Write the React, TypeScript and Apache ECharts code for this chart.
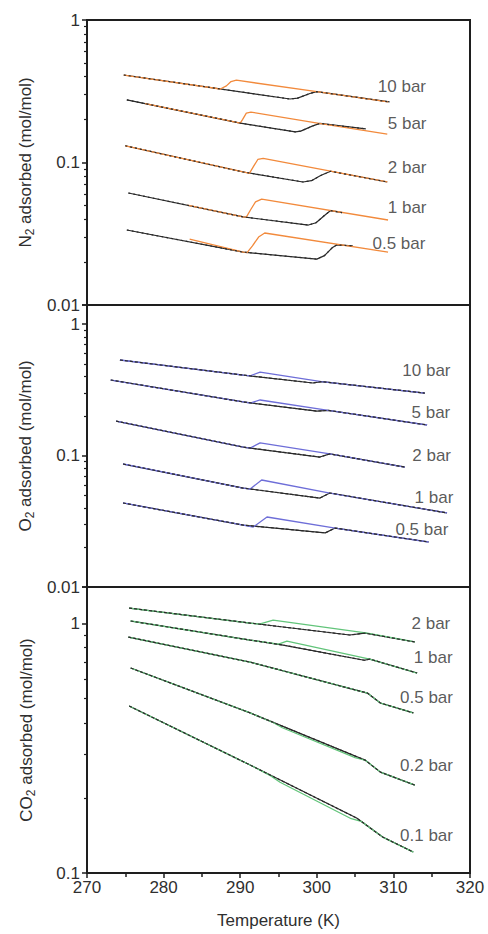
import React, { useEffect, useRef } from 'react';
import * as echarts from 'echarts';

// ---------- axes ----------
const X_MIN = 270;
const X_MAX = 320;
const X_STEP = 10;
const Y_TICK_VALUES = [0.01, 0.1, 1];
const Y_TICK_TEXT = ['0.01', '0.1', '1'];
const N2_Y = [0.01, 1];
const O2_Y = [0.01, 1.4];
const CO2_Y = [0.1, 1.4];
const MINOR_LOW = [0.02, 0.03, 0.04, 0.05, 0.06, 0.07, 0.08, 0.09];
const MINOR_HIGH = [0.2, 0.3, 0.4, 0.5, 0.6, 0.7, 0.8, 0.9];

// ---------- N2 panel (orange = first run, black = reverse run) ----------
const N2_10_ORANGE = [[274.8, 0.411], [287.4, 0.328], [288.2, 0.345], [288.8, 0.37], [289.5, 0.378], [300.0, 0.314], [309.3, 0.266]];
const N2_10_BLACK = [[274.8, 0.411], [296.5, 0.279], [297.5, 0.283], [299.1, 0.305], [300.0, 0.314], [309.5, 0.266]];
const N2_5_ORANGE = [[277.6, 0.259], [290.0, 0.189], [290.3, 0.2], [290.8, 0.222], [291.4, 0.226], [300.3, 0.188], [309.2, 0.158]];
const N2_5_BLACK = [[275.2, 0.275], [290.0, 0.189], [297.2, 0.164], [297.9, 0.166], [299.4, 0.18], [300.4, 0.188], [306.4, 0.172]];
const N2_2_ORANGE = [[275.0, 0.131], [290.4, 0.0858], [291.2, 0.084], [291.8, 0.095], [292.3, 0.105], [293.0, 0.107], [309.2, 0.073]];
const N2_2_BLACK = [[275.0, 0.131], [290.4, 0.0858], [298.2, 0.073], [299.3, 0.0745], [300.5, 0.081], [301.8, 0.0868], [309.2, 0.073]];
const N2_1_ORANGE = [[283.1, 0.0503], [290.4, 0.0415], [290.8, 0.0414], [291.4, 0.047], [292.0, 0.053], [292.8, 0.0554], [309.3, 0.0395]];
const N2_1_BLACK = [[275.4, 0.0611], [290.4, 0.0415], [298.9, 0.0364], [299.9, 0.0378], [301.0, 0.0425], [301.8, 0.046], [303.3, 0.0445]];
const N2_05_ORANGE = [[283.4, 0.029], [290.4, 0.0235], [290.9, 0.0233], [291.6, 0.026], [292.4, 0.03], [293.2, 0.032], [309.3, 0.0235]];
const N2_05_BLACK = [[275.2, 0.0336], [290.4, 0.0235], [300.0, 0.021], [301.0, 0.0222], [302.0, 0.0252], [302.6, 0.0264], [304.7, 0.026]];

// ---------- O2 panel ----------
const O2_10_BLUE = [[274.3, 0.534], [290.4, 0.41], [291.3, 0.405], [292.6, 0.432], [300.6, 0.366], [314.1, 0.299]];
const O2_10_BLACK = [[274.3, 0.534], [290.4, 0.41], [299.5, 0.357], [300.6, 0.366], [314.1, 0.299]];
const O2_5_BLUE = [[273.1, 0.376], [290.4, 0.256], [291.3, 0.251], [292.6, 0.265], [301.5, 0.221], [314.4, 0.171]];
const O2_5_BLACK = [[273.1, 0.376], [290.4, 0.256], [300.0, 0.218], [301.5, 0.221], [314.4, 0.171]];
const O2_2_BLUE = [[273.8, 0.183], [290.4, 0.116], [291.3, 0.114], [292.6, 0.125], [301.7, 0.103], [311.5, 0.0818]];
const O2_2_BLACK = [[273.8, 0.183], [290.4, 0.116], [300.4, 0.0975], [301.7, 0.103], [311.5, 0.0818]];
const O2_1_BLUE = [[274.7, 0.0863], [290.4, 0.0566], [291.3, 0.0557], [292.8, 0.0652], [301.7, 0.0519], [317.0, 0.0366]];
const O2_1_BLACK = [[274.7, 0.0863], [290.4, 0.0566], [300.4, 0.0475], [301.7, 0.0519], [317.0, 0.0366]];
const O2_05_BLUE = [[274.7, 0.0436], [290.4, 0.0296], [291.7, 0.0286], [293.5, 0.0341], [302.4, 0.0281], [314.6, 0.022]];
const O2_05_BLACK = [[274.7, 0.0436], [290.4, 0.0296], [301.1, 0.0258], [302.4, 0.0281], [314.6, 0.022]];

// ---------- CO2 panel ----------
const CO2_2_GREEN = [[275.5, 1.153], [291.3, 1.004], [292.5, 0.994], [294.3, 1.032], [306.6, 0.915], [312.8, 0.843]];
const CO2_2_BLACK = [[275.5, 1.153], [291.3, 1.004], [304.3, 0.899], [306.3, 0.915], [312.8, 0.843]];
const CO2_1_GREEN = [[275.7, 1.023], [291.3, 0.858], [295.0, 0.826], [296.1, 0.85], [306.9, 0.72], [313.1, 0.633]];
const CO2_1_BLACK = [[275.7, 1.023], [291.3, 0.858], [295.6, 0.819], [306.2, 0.712], [306.9, 0.72], [313.1, 0.633]];
const CO2_05_GREEN = [[275.4, 0.882], [291.3, 0.7], [306.6, 0.526], [308.3, 0.48], [312.6, 0.438]];
const CO2_05_BLACK = [[275.4, 0.882], [291.3, 0.7], [306.6, 0.526], [308.3, 0.48], [312.6, 0.438]];
const CO2_02_GREEN = [[275.7, 0.663], [291.3, 0.438], [294.3, 0.401], [295.5, 0.382], [305.0, 0.29], [306.3, 0.2835], [308.3, 0.2537], [312.8, 0.225]];
const CO2_02_BLACK = [[275.7, 0.663], [291.3, 0.438], [306.3, 0.2835], [308.3, 0.2537], [312.8, 0.225]];
const CO2_01_GREEN = [[275.5, 0.467], [291.3, 0.2708], [294.0, 0.245], [295.2, 0.231], [304.5, 0.165], [305.8, 0.161], [308.6, 0.1393], [312.6, 0.1213]];
const CO2_01_BLACK = [[275.5, 0.467], [291.3, 0.2708], [305.2, 0.166], [308.6, 0.1393], [312.6, 0.1213]];

// ---------- curve labels ----------
const N2_LABELS = ['10 bar', '5 bar', '2 bar', '1 bar', '0.5 bar'];
const N2_LABEL_AT = [[307.9, 0.339], [309.2, 0.189], [309.2, 0.0915], [309.2, 0.048], [307.2, 0.0272]];
const O2_LABELS = ['10 bar', '5 bar', '2 bar', '1 bar', '0.5 bar'];
const O2_LABEL_AT = [[311.1, 0.448], [312.3, 0.211], [312.4, 0.101], [312.7, 0.0484], [310.2, 0.0276]];
const CO2_LABELS = ['2 bar', '1 bar', '0.5 bar', '0.2 bar', '0.1 bar'];
const CO2_LABEL_AT = [[312.3, 1.004], [312.6, 0.733], [310.8, 0.507], [310.8, 0.2708], [310.8, 0.1419]];

const BLACK = '#2a2a2a';
const ORANGE = '#f28a3c';
const BLUE = '#6e6ed8';
const GREEN = '#62c47a';
const TEXT = '#2f2f2f';
const FONT = 'Liberation Sans, Arial, sans-serif';

function pairSeries(gi: number, color: string, dash: number[], pairs: number[][][][]) {
  const out: any[] = [];
  pairs.forEach(([colored, black]) => {
    const base = { type: 'line', xAxisIndex: gi, yAxisIndex: gi, symbol: 'none', showSymbol: false, silent: true, clip: true };
    out.push({ ...base, data: black, z: 2, lineStyle: { color: BLACK, width: 1.2 } });
    out.push({ ...base, data: colored, z: 3, lineStyle: { color, width: 1.3 } });
    out.push({ ...base, data: black, z: 4, lineStyle: { color: BLACK, width: 1.2, type: dash } });
  });
  return out;
}

function labelSeries(gi: number, names: string[], at: number[][]) {
  return {
    type: 'scatter',
    xAxisIndex: gi,
    yAxisIndex: gi,
    symbolSize: 1,
    itemStyle: { color: 'rgba(0,0,0,0)' },
    silent: true,
    z: 6,
    data: names.map((n, i) => ({ name: n, value: at[i] })),
    label: { show: true, position: 'right', distance: 0, formatter: '{b}', fontSize: 17, color: TEXT, fontFamily: FONT },
  };
}

function yLabel(v: number) {
  for (let i = 0; i < Y_TICK_VALUES.length; i++) {
    if (Math.abs(v - Y_TICK_VALUES[i]) / Y_TICK_VALUES[i] < 1e-4) return Y_TICK_TEXT[i];
  }
  return '';
}

const GRID_LEFT = 87;
const GRID_W = 383;
const GRIDS = [
  { top: 20, height: 285 },
  { top: 305, height: 282 },
  { top: 587, height: 286 },
];

function mainY(gi: number, range: number[], name: string) {
  return {
    type: 'log',
    logBase: 10,
    gridIndex: gi,
    min: range[0],
    max: range[1],
    position: 'left',
    axisLine: { show: false },
    splitLine: { show: false },
    axisTick: { show: true, length: 5, lineStyle: { color: '#1e1e1e', width: 1.5 } },
    axisLabel: { formatter: yLabel, fontSize: 17, color: TEXT, margin: 7, fontFamily: FONT },
    name,
    nameLocation: 'middle',
    nameGap: 50,
    nameRotate: 90,
    nameTextStyle: {
      fontSize: 17,
      lineHeight: 22,
      color: TEXT,
      fontFamily: FONT,
      rich: { s: { fontSize: 12, lineHeight: 12, verticalAlign: 'bottom', color: TEXT, fontFamily: FONT } },
    },
  };
}

function minorY(gi: number, range: number[], ticks: number[]) {
  return {
    type: 'log',
    logBase: 10,
    gridIndex: gi,
    min: range[0],
    max: range[1],
    position: 'left',
    axisLine: { show: false },
    splitLine: { show: false },
    axisLabel: { show: false },
    axisTick: { show: true, length: 3, customValues: ticks, lineStyle: { color: '#1e1e1e', width: 1.2 } },
  };
}

function xAxis(gi: number, visible: boolean) {
  return {
    type: 'value',
    gridIndex: gi,
    min: X_MIN,
    max: X_MAX,
    interval: X_STEP,
    axisLine: { show: false },
    splitLine: { show: false },
    axisTick: { show: visible, length: 5, lineStyle: { color: '#1e1e1e', width: 1.5 } },
    minorTick: { show: visible, splitNumber: 2, length: 4, lineStyle: { color: '#1e1e1e', width: 1.5 } },
    axisLabel: { show: visible, fontSize: 17, color: TEXT, margin: 6, fontFamily: FONT },
    name: visible ? 'Temperature (K)' : '',
    nameLocation: 'middle',
    nameGap: 39,
    nameTextStyle: { fontSize: 17, color: TEXT, fontFamily: FONT },
  };
}

export default function App() {
  const ref = useRef<HTMLDivElement>(null);
  useEffect(() => {
    if (!ref.current) return;
    const chart = echarts.init(ref.current, null, { renderer: 'svg' });
    const option: any = {
      animation: false,
      backgroundColor: '#ffffff',
      textStyle: { fontFamily: FONT },
      grid: GRIDS.map((g) => ({
        left: GRID_LEFT,
        width: GRID_W,
        top: g.top,
        height: g.height,
        show: true,
        borderColor: '#1e1e1e',
        borderWidth: 2,
        backgroundColor: 'transparent',
        containLabel: false,
      })),
      xAxis: [xAxis(0, false), xAxis(1, false), xAxis(2, true)],
      yAxis: [
        mainY(0, N2_Y, 'N{s|2} adsorbed (mol/mol)'),
        mainY(1, O2_Y, 'O{s|2} adsorbed (mol/mol)'),
        mainY(2, CO2_Y, 'CO{s|2} adsorbed (mol/mol)'),
        minorY(0, N2_Y, [...MINOR_LOW, ...MINOR_HIGH]),
        minorY(1, O2_Y, [...MINOR_LOW, ...MINOR_HIGH]),
        minorY(2, CO2_Y, MINOR_HIGH),
      ],
      series: [
        ...pairSeries(0, ORANGE, [2, 3], [
          [N2_10_ORANGE, N2_10_BLACK],
          [N2_5_ORANGE, N2_5_BLACK],
          [N2_2_ORANGE, N2_2_BLACK],
          [N2_1_ORANGE, N2_1_BLACK],
          [N2_05_ORANGE, N2_05_BLACK],
        ]),
        ...pairSeries(1, BLUE, [3, 2], [
          [O2_10_BLUE, O2_10_BLACK],
          [O2_5_BLUE, O2_5_BLACK],
          [O2_2_BLUE, O2_2_BLACK],
          [O2_1_BLUE, O2_1_BLACK],
          [O2_05_BLUE, O2_05_BLACK],
        ]),
        ...pairSeries(2, GREEN, [3, 2], [
          [CO2_2_GREEN, CO2_2_BLACK],
          [CO2_1_GREEN, CO2_1_BLACK],
          [CO2_05_GREEN, CO2_05_BLACK],
          [CO2_02_GREEN, CO2_02_BLACK],
          [CO2_01_GREEN, CO2_01_BLACK],
        ]),
        labelSeries(0, N2_LABELS, N2_LABEL_AT),
        labelSeries(1, O2_LABELS, O2_LABEL_AT),
        labelSeries(2, CO2_LABELS, CO2_LABEL_AT),
      ],
    };
    chart.setOption(option);
    return () => chart.dispose();
  }, []);
  return (
    <div
      ref={ref}
      style={{ position: 'fixed', left: 0, top: 0, width: 488, height: 934, background: '#fff' }}
    />
  );
}
